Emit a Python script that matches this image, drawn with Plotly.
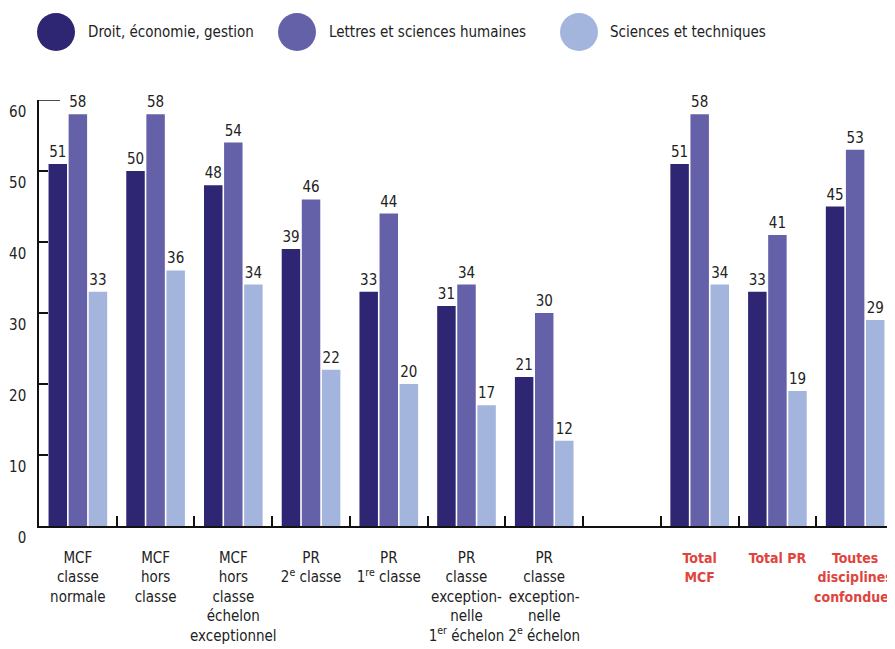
import plotly.graph_objects as go

categories = [
    "MCF<br>classe<br>normale",
    "MCF<br>hors<br>classe",
    "MCF<br>hors<br>classe<br>échelon<br>exceptionnel",
    "PR<br>2<sup>e</sup> classe",
    "PR<br>1<sup>re</sup> classe",
    "PR<br>classe<br>exception-<br>nelle<br>1<sup>er</sup> échelon",
    "PR<br>classe<br>exception-<br>nelle<br>2<sup>e</sup> échelon",
    " ",
    "<b>Total<br>MCF</b>",
    "<b>Total PR</b>",
    "<b>Toutes<br>disciplines<br>confondues</b>",
]
red_categories = [8, 9, 10]

series_names = ["Droit, économie, gestion", "Lettres et sciences humaines", "Sciences et techniques"]
droit = [51, 50, 48, 39, 33, 31, 21, None, 51, 33, 45]
lettres = [58, 58, 54, 46, 44, 34, 30, None, 58, 41, 53]
sciences = [33, 36, 34, 22, 20, 17, 12, None, 34, 19, 29]
y_ticks = [0, 10, 20, 30, 40, 50, 60]

colors = ["#2e2672", "#6561a8", "#a4b5dd"]
RED = "#e0443d"
FONT = "DejaVu Sans Condensed, DejaVu Sans, sans-serif"
TXT = "#222222"


def f(size, color=TXT):
    return dict(family=FONT, size=size, color=color)


fig = go.Figure()
for name, vals, col in zip(series_names, [droit, lettres, sciences], colors):
    fig.add_trace(go.Bar(
        x=categories, y=vals, name=name, marker=dict(color=col, line=dict(width=0)),
        text=["" if v is None else str(v) for v in vals],
        textposition="outside", cliponaxis=False,
        textfont=f(15),
        showlegend=False,
    ))

ticktext = []
for i, c in enumerate(categories):
    if i in red_categories:
        ticktext.append(f'<span style="color:{RED};font-size:14px">{c}</span>')
    else:
        ticktext.append(c)

# page body has an 8px margin: positions below are page pixels minus 8
OFF = 8
W, H = 895 - OFF, 649 - OFF
plot_l, plot_r, plot_t, plot_b = 39 - OFF, 894 - OFF, 100 - OFF, 526 - OFF
pw, ph = plot_r - plot_l, plot_b - plot_t
legend_cx = [56 - OFF, 297 - OFF, 579 - OFF]
legend_tx = [86 - OFF, 327 - OFF, 608 - OFF]
legend_cy = 32 - OFF
shapes = []
annotations = []
for cx, tx, col, name in zip(legend_cx, legend_tx, colors, series_names):
    shapes.append(dict(type="circle", xref="paper", yref="paper",
                       xsizemode="pixel", ysizemode="pixel",
                       xanchor=(cx - plot_l) / pw, yanchor=(plot_b - legend_cy) / ph,
                       x0=-19, x1=19, y0=-19, y1=19,
                       fillcolor=col, line=dict(width=0)))
    annotations.append(dict(text=name, xref="paper", yref="paper",
                            x=(tx - plot_l) / pw, y=(plot_b - legend_cy) / ph,
                            xanchor="left", yanchor="middle", showarrow=False,
                            font=f(15)))
shapes.append(dict(type="line", xref="paper", yref="y", x0=0, x1=21 / pw, y0=60, y1=60,
                   line=dict(color="#111111", width=1.5)))

fig.update_layout(
    width=W, height=H,
    margin=dict(l=plot_l, r=W - plot_r, t=plot_t, b=H - plot_b, autoexpand=False),
    paper_bgcolor="white", plot_bgcolor="white",
    barmode="group", bargap=0.225, bargroupgap=0.08,
    font=f(15),
    shapes=shapes, annotations=annotations,
    xaxis=dict(
        type="category", categoryorder="array", categoryarray=categories,
        tickmode="array", tickvals=categories, ticktext=ticktext,
        tickson="boundaries", ticks="inside", ticklen=10, tickwidth=1.5, tickcolor="#111111",
        showline=True, linecolor="#111111", linewidth=1.5,
        showgrid=False, zeroline=False, range=[-0.5, 10.5],
        tickfont=f(15), tickangle=0, automargin=False,
        ticklabelstandoff=17,
    ),
    yaxis=dict(
        range=[0, 60], tickmode="array", tickvals=y_ticks,
        ticks="inside", ticklen=9, tickwidth=1.5, tickcolor="#111111",
        showline=True, linecolor="#111111", linewidth=1.5,
        showgrid=False, zeroline=False, automargin=False,
        ticklabelposition="outside bottom",
        tickfont=f(15),
        ticklabelstandoff=8,
    ),
)

fig.write_html("out.html")
